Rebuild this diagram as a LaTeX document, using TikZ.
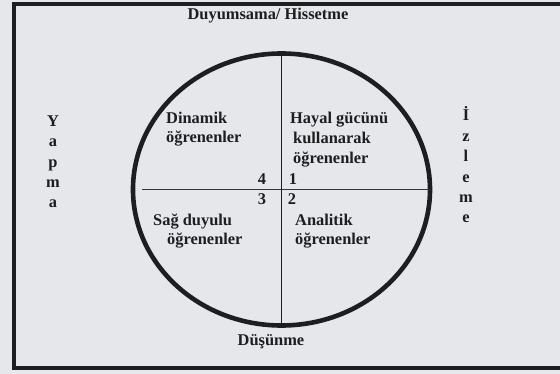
\documentclass[tikz,border=0pt]{standalone}
\usepackage{fontspec}
\setmainfont{Liberation Serif}
\usetikzlibrary{shapes.geometric}
\definecolor{paper}{RGB}{230,231,234}
\definecolor{ink}{RGB}{30,30,32}
\definecolor{crossline}{RGB}{50,50,72}
\begin{document}
\begin{tikzpicture}[x=1pt,y=-1pt,
  txt/.style={font=\fontsize{16.4}{20}\selectfont\bfseries, text=ink, inner sep=0pt},
  lbl/.style={txt, align=left, anchor=base west},
  num/.style={txt, anchor=base},
  vert/.style={txt, align=center, anchor=base, font=\fontsize{16.4}{20.4}\selectfont\bfseries}]
\fill[paper] (0,0) rectangle (560,374);
\useasboundingbox (0,0) rectangle (560,374);
% frame
\draw[ink, line width=3.5pt] (562,4) -- (14,4) -- (14,368) -- (562,368);
% circle and cross
\node[ellipse, draw=ink, line width=4.6pt, minimum width=297pt, minimum height=272pt, inner sep=0pt, outer sep=0pt] (circ) at (281.5,189.5) {};
\draw[crossline, line width=1.6pt] ([xshift=9pt]circ.west) -- (circ.east);
\draw[ink, line width=1.6pt] (circ.north) -- (circ.south);
% outer labels
\node[num] (top) at (268,20) {Duyumsama/ Hissetme};
\node[num] (bottom) at (271,345) {Düşünme};
\node[vert] (left) at (53,208) {Y\\a\\p\\m\\a};
\node[vert] (right) at (466,223) {İ\\z\\l\\e\\m\\e};
% quadrant labels
\node[lbl, font=\fontsize{16.4}{19}\selectfont\bfseries] (q4) at (166,143) {Dinamik\\öğrenenler};
\node[lbl] (q1) at (290,164) {Hayal gücünü\\\hspace*{3pt}kullanarak\\\hspace*{3pt}öğrenenler};
\node[lbl, font=\fontsize{16.4}{19}\selectfont\bfseries] (q3) at (153,245) {Sağ duyulu\\\hspace*{14pt}öğrenenler};
\node[lbl, font=\fontsize{16.4}{19}\selectfont\bfseries] (q2) at (295,245) {Analitik\\öğrenenler};
% numbers
\node[num] (n4) at (262,185) {4};
\node[num] (n1) at (293,185) {1};
\node[num] (n3) at (262,205) {3};
\node[num] (n2) at (292,205) {2};
\end{tikzpicture}
\end{document}
